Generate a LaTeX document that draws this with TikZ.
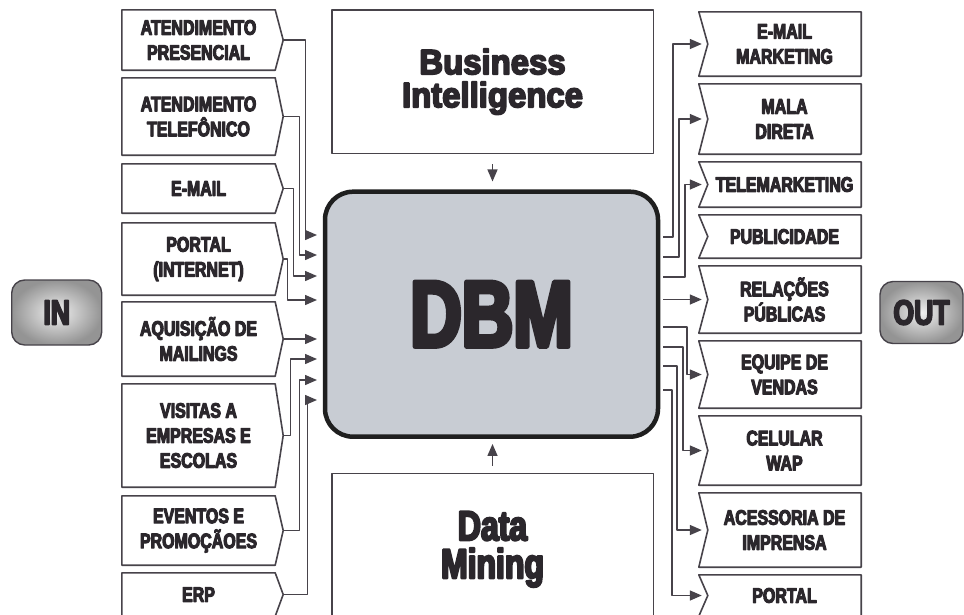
\documentclass[tikz,border=0pt]{standalone}
\usepackage{fontspec}
\usepackage{tikz}
\usetikzlibrary{arrows.meta}
\newfontfamily\heavy{Liberation Sans}[UprightFont=* Bold,FakeStretch=0.76,FakeBold=5]
\newfontfamily\heavywide{Liberation Sans}[UprightFont=* Bold,FakeStretch=0.94,FakeBold=5]
\definecolor{ink}{HTML}{2B272C}
\definecolor{linegray}{HTML}{47434A}
\definecolor{dbmfill}{HTML}{C8CCD3}

\begin{document}
\begin{tikzpicture}[x=1pt,y=-1pt,line join=round,
  lbl/.style={text=ink,font=\heavy\fontsize{21}{25}\selectfont,
    align=center,inner sep=0pt,minimum width=153pt},
  boxline/.style={linegray,line width=1.6pt},
  conn/.style={-{Triangle[length=12pt,width=10pt]},linegray,line width=1.4pt},
  btn/.style={draw=linegray,line width=1.4pt,rounded corners=13pt,
    inner color=black!6,outer color=black!42,text=ink,
    font=\heavy\fontsize{35}{35}\selectfont}]
  \path[use as bounding box,fill=white] (0,0) rectangle (964,614);

  % IN / OUT buttons
  \node[btn,minimum width=90pt,minimum height=65pt] (btn-in) at (56.7,312.5) {IN};
  \node[btn,minimum width=83pt,minimum height=62pt] (btn-out) at (921.5,312.5) {OUT};

  % central database box
  \node[draw=black!88,line width=4.5pt,fill=dbmfill,rounded corners=28pt,
    minimum width=333pt,minimum height=245pt,text=ink,
    font=\heavy\fontsize{94}{94}\selectfont] (dbm) at (491.5,314.2) {DBM};

  % feeding boxes above and below
  \node[draw=linegray,line width=1.6pt,minimum width=321.6pt,minimum height=143.3pt,
    text=ink,align=center,font=\heavywide\fontsize{35}{33}\selectfont]
    (bi) at (492.5,81.7) {Business\\Intelligence};
  \node[draw=linegray,line width=1.6pt,minimum width=321.6pt,minimum height=152pt,
    text=ink,align=center,font=\heavy\fontsize{42}{38}\selectfont]
    (dm) at (492.5,549.3) {Data\\Mining};
  \draw[conn,shorten <=10pt,shorten >=8pt] (bi.south) -- (bi.south |- dbm.north);
  \draw[conn,shorten <=7pt,shorten >=5pt] (dm.north) -- (dm.north |- dbm.south);

  % input channels, pointing right
  \foreach \nm/\ya/\yb/\txt in {pres/10/70/{ATENDIMENTO\\PRESENCIAL},
      tele/78/155/{ATENDIMENTO\\TELEFÔNICO}, mail/164/213/{E-MAIL},
      port/223/295/{PORTAL\\(INTERNET)}, aq/302/376/{AQUISIÇÃO DE\\MAILINGS},
      vis/384/487/{VISITAS A\\EMPRESAS E\\ESCOLAS},
      evt/496/565/{EVENTOS E\\PROMOÇÃOES}, erp/573/616/{ERP}}{
    \node[lbl,minimum height={(\yb-\ya)*1pt}] (\nm) at (198.5,{(\ya+\yb)/2}) {\txt};
    \draw[boxline] (\nm.north west) -- (\nm.north east) -- ([xshift=8pt]\nm.east)
      -- (\nm.south east) -- (\nm.south west) -- cycle;
    \coordinate (\nm-tip) at ([xshift=8pt]\nm.east);
  }

  % output channels, notched on the left
  \foreach \nm/\ya/\yb/\txt in {emk/12/76/{E-MAIL\\MARKETING},
      mala/84/154/{MALA\\DIRETA}, tmk/162/207/{TELEMARKETING},
      pub/215/258/{PUBLICIDADE}, rp/266/333/{RELAÇÕES\\PÚBLICAS},
      eqv/341/408/{EQUIPE DE\\VENDAS}, wap/416/485/{CELULAR\\WAP},
      imp/493/567/{ACESSORIA DE\\IMPRENSA}, portal/575/616/{PORTAL}}{
    \node[lbl,minimum height={(\yb-\ya)*1pt}] (\nm) at (784.5,{(\ya+\yb)/2}) {\txt};
    \draw[boxline] ([xshift=-9pt]\nm.north west) -- (\nm.north east)
      -- (\nm.south east) -- ([xshift=-9pt]\nm.south west) -- (\nm.west) -- cycle;
    \coordinate (\nm-in) at ([xshift=-6pt]\nm.west);
  }

  % inputs into DBM
  \foreach \nm/\dx/\ye in {pres/22/235,tele/16/255,mail/10/276,port/4/300,
      vis/7/359,evt/16/380,erp/24/400}{
    \coordinate (in-\nm) at (317,\ye);
    \draw[conn] (\nm-tip) -- ++(\dx,0) |- (in-\nm);
  }
  \coordinate (in-aq) at (317,339);
  \draw[conn] (aq-tip) -- (in-aq);

  % outputs from DBM (none goes to PUBLICIDADE)
  \foreach \nm/\dx/\ys in {emk/10/237,mala/16/257,tmk/22/277,
      eqv/24/327,wap/20/347,imp/14/366,portal/9/390}{
    \coordinate (src-\nm) at (663,\ys);
    \draw[conn] (src-\nm) -- ++(\dx,0) |- (\nm-in);
  }
  \coordinate (src-rp) at (663,299.5);
  \draw[conn] (src-rp) -- (rp-in);
\end{tikzpicture}
\end{document}
